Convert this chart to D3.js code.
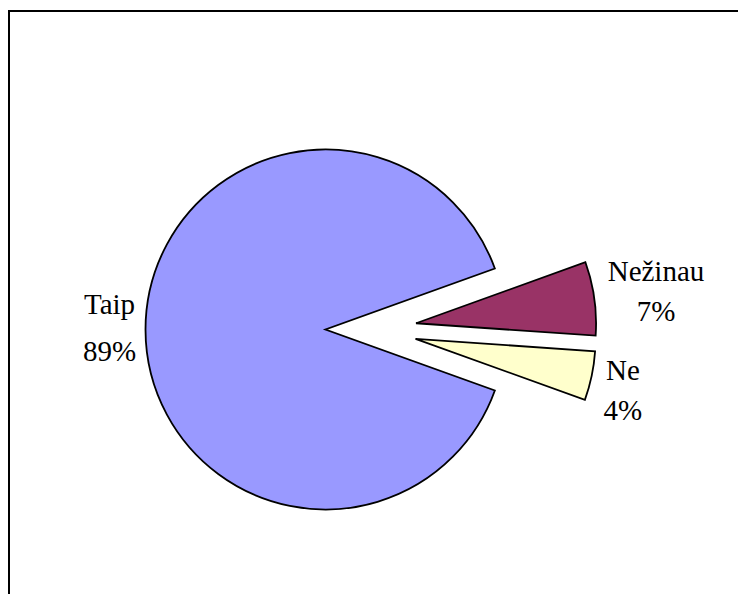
<!DOCTYPE html>
<html>
<head>
<meta charset="utf-8">
<script src="https://cdn.jsdelivr.net/npm/d3@7"></script>
</head>
<body style="margin:0">
<svg id="chart" width="738" height="594"></svg>
<script>
// ---- data ----
const categories = ["Taip", "Nežinau", "Ne"];
const values = [89.0, 6.6, 4.4];
const colors = ["#9999FF", "#993366", "#FFFFCC"];

// ---- layout ----
const W = 738, H = 594;
const cx = 371, cy = 329.5, R = 180, explode = 45.5;
const fontSize = 29, capH = 19, labelRadius = 216;
const lineGaps = [47, 40, 40];
const labelNudge = [[0, -2], [26, -2], [-4, 7]];

const svg = d3.select("#chart");

svg.append("path")
  .attr("d", `M9,${H} V11 H${W}`)
  .attr("fill", "none")
  .attr("stroke", "#000")
  .attr("stroke-width", 2);

const total = d3.sum(values);
const a0 = 1.5 * Math.PI - Math.PI * values[0] / total;
const pie = d3.pie().sort(null).startAngle(a0).endAngle(a0 + 2 * Math.PI);
const arcs = pie(values);
const arc = d3.arc().innerRadius(0).outerRadius(R);

arcs.forEach((d, i) => {
  const mid = (d.startAngle + d.endAngle) / 2;
  const ux = Math.sin(mid), uy = -Math.cos(mid);
  const ax = cx + ux * explode, ay = cy + uy * explode;
  svg.append("path")
    .attr("d", arc(d))
    .attr("transform", `translate(${ax},${ay})`)
    .attr("fill", colors[i])
    .attr("stroke", "#000")
    .attr("stroke-width", 1.8)
    .attr("stroke-linejoin", "miter");

  const lx = ax + ux * labelRadius + labelNudge[i][0];
  const ly = ay + uy * labelRadius + labelNudge[i][1];
  const gap = lineGaps[i];
  const y0 = ly - (gap - capH) / 2;
  const lines = [categories[i], Math.round(100 * values[i] / total) + "%"];
  lines.forEach((s, k) => {
    const t = svg.append("text")
      .attr("x", lx).attr("y", y0 + k * gap)
      .style("font-family", '"Liberation Serif"')
      .attr("font-size", fontSize)
      .text(s);
    const w = t.node().getComputedTextLength();
    t.attr("x", lx - w / 2);
  });
});
</script>
</body>
</html>
